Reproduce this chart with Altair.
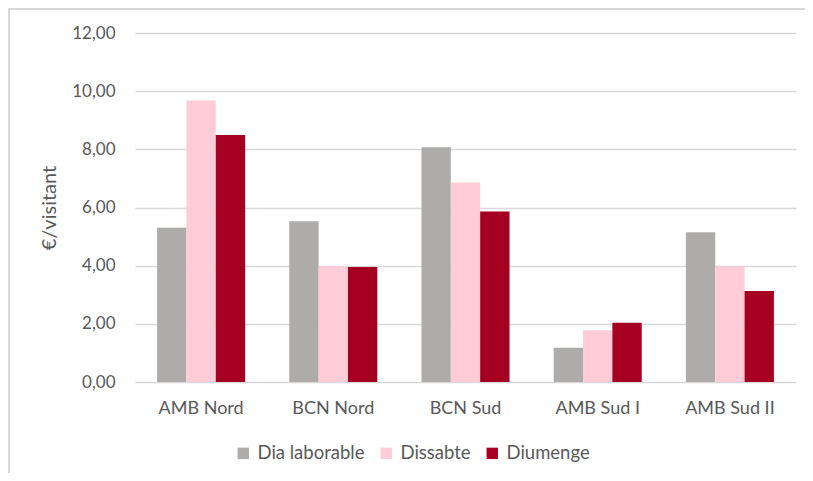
import altair as alt
import pandas as pd

categories = ["AMB Nord", "BCN Nord", "BCN Sud", "AMB Sud I", "AMB Sud II"]
series = ["Dia laborable", "Dissabte", "Diumenge"]
dia_laborable = [5.30, 5.53, 8.07, 1.18, 5.15]
dissabte = [9.68, 3.98, 6.86, 1.78, 3.97]
diumenge = [8.49, 3.95, 5.86, 2.04, 3.13]
colors = ["#AEABAB", "#FFCCD8", "#A50021"]
y_ticks = [0, 2, 4, 6, 8, 10, 12]

rows = []
for s, vals in zip(series, [dia_laborable, dissabte, diumenge]):
    for c, v in zip(categories, vals):
        rows.append({"zona": c, "serie": s, "valor": v})
df = pd.DataFrame(rows)

FONT = "Lato"
TXT = "#595959"

bars = alt.Chart(df).mark_bar().encode(
    x=alt.X("zona:N", sort=categories, title=None,
            scale=alt.Scale(paddingInner=0.334, paddingOuter=0.167),
            axis=alt.Axis(labelAngle=0, domain=False, ticks=False, labelPadding=17,
                          labelFontSize=18, labelColor=TXT, labelFont=FONT)),
    xOffset=alt.XOffset("serie:N", sort=series, scale=alt.Scale(paddingInner=0, paddingOuter=0)),
    y=alt.Y("valor:Q", title="€/visitant",
            scale=alt.Scale(domain=[0, 12], nice=False),
            axis=alt.Axis(values=y_ticks, domain=False, ticks=False, grid=True,
                          gridColor="#D9D9D9", gridWidth=1.5,
                          labelExpr="replace(format(datum.value, '.2f'), '.', ',')",
                          labelFontSize=17, labelColor=TXT, labelFont=FONT, labelPadding=20,
                          titleFontSize=20, titleColor=TXT, titleFont=FONT,
                          titleFontWeight="normal", titlePadding=12)),
    color=alt.Color("serie:N", sort=series,
                    scale=alt.Scale(domain=series, range=colors),
                    legend=alt.Legend(title=None, orient="none", direction="horizontal",
                                      legendX=99, legendY=411,
                                      symbolType="square", symbolSize=130,
                                      symbolStrokeWidth=0, labelFontSize=18.5,
                                      labelColor=TXT, labelFont=FONT,
                                      columnPadding=12, labelOffset=5)),
)

frame_data = alt.Data(values=[{"k": 1}])
left_line = alt.Chart(frame_data).mark_rule(color="#D9D9D9", strokeWidth=2).encode(
    x=alt.value(-126), y=alt.value(-25), y2=alt.value(440))
top_line = alt.Chart(frame_data).mark_rule(color="#D9D9D9", strokeWidth=2).encode(
    x=alt.value(-126), x2=alt.value(670), y=alt.value(-24))

chart = alt.layer(bars, left_line, top_line).properties(
    width=661, height=349,
    autosize=alt.AutoSizeParams(type="none"),
    padding={"left": 127, "top": 25, "right": 9, "bottom": 91},
).configure_view(stroke=None).configure_axisY(gridOpacity=1)

chart.save("out.html", embed_options={"renderer": "svg", "actions": False})
